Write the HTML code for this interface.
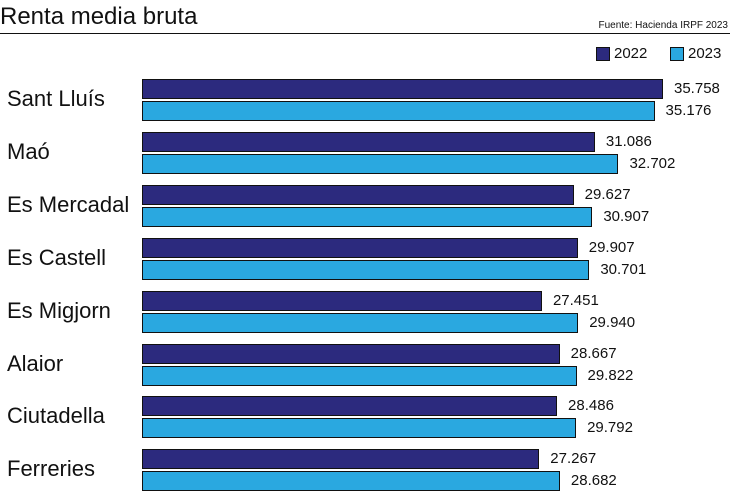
<!DOCTYPE html>
<html><head><meta charset="utf-8"><style>
body{margin:0;width:730px;height:500px;background:#fff;font-family:"Liberation Sans",sans-serif;position:relative;overflow:hidden}
.t{position:absolute;white-space:nowrap;color:#111}
.b{position:absolute;left:142px;height:18px;border:1px solid #111;box-sizing:content-box}
.d{background:#2c2a7e}.l{background:#2aa8e0}
</style></head><body>
<div class="t" style="left:0;top:3px;font-size:24px">Renta media bruta</div>
<div class="t" style="right:2px;top:20px;font-size:10px">Fuente: Hacienda IRPF 2023</div>
<div style="position:absolute;left:0;top:33px;width:730px;height:1px;background:#111"></div>
<div style="position:absolute;left:596px;top:47px;width:12px;height:12px;border:1px solid #111;background:#2c2a7e"></div>
<div class="t" style="left:614px;top:45px;font-size:15px">2022</div>
<div style="position:absolute;left:670px;top:47px;width:12px;height:12px;border:1px solid #111;background:#2aa8e0"></div>
<div class="t" style="left:688px;top:45px;font-size:15px">2023</div>
<div id="c"></div>
<script>
var d=[["Sant Lluís",35758,35176,"35.758","35.176"],["Maó",31086,32702,"31.086","32.702"],["Es Mercadal",29627,30907,"29.627","30.907"],["Es Castell",29907,30701,"29.907","30.701"],["Es Migjorn",27451,29940,"27.451","29.940"],["Alaior",28667,29822,"28.667","29.822"],["Ciutadella",28486,29792,"28.486","29.792"],["Ferreries",27267,28682,"27.267","28.682"]];
var s=(663-142)/35758,h="";
d.forEach(function(r,i){var y=79+i*52.9;
var w1=r[1]*s,w2=r[2]*s;
h+='<div class="t" style="left:7px;top:'+(y+7)+'px;font-size:22px">'+r[0]+'</div>';
h+='<div class="b d" style="top:'+y+'px;width:'+(w1-2)+'px"></div>';
h+='<div class="b l" style="top:'+(y+22)+'px;width:'+(w2-2)+'px"></div>';
h+='<div class="t" style="left:'+(142+w1+11)+'px;top:'+(y+1)+'px;font-size:15px">'+r[3]+'</div>';
h+='<div class="t" style="left:'+(142+w2+11)+'px;top:'+(y+23)+'px;font-size:15px">'+r[4]+'</div>';});
document.getElementById("c").innerHTML=h;
</script>
</body></html>
